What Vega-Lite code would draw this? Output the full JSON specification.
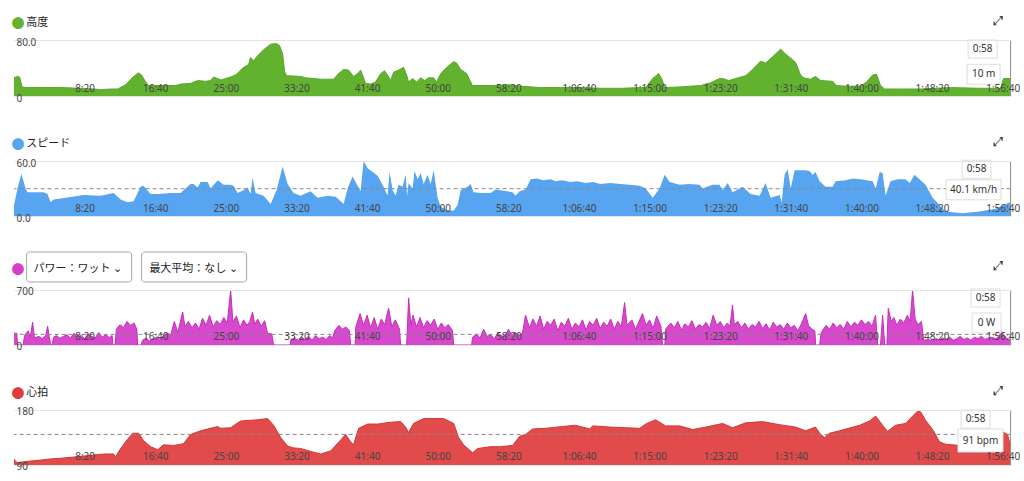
{
  "$schema": "https://vega.github.io/schema/vega-lite/v6.json",
  "autosize": {"type": "pad"},
  "padding": {"top": 14, "left": 11, "right": 4, "bottom": 4},
  "background": "#ffffff",
  "config": {
    "view": {"stroke": null},
    "axis": {"labelFont": "Noto Sans", "labelFontSize": 10, "labelColor": "#444444", "domain": false, "ticks": false, "labelFlush": false, "labelOverlap": false},
    "area": {"opacity": 1}
  },
  "datasets": {
    "elev": [
      {"t":0,"v":26},{"t":25,"v":28},{"t":40,"v":27},{"t":57,"v":13},{"t":75,"v":12},{"t":188,"v":12},{"t":330,"v":12},{"t":472,"v":11},{"t":564,"v":10},{"t":613,"v":9},{"t":684,"v":10},{"t":734,"v":10},{"t":790,"v":16},{"t":847,"v":28},{"t":882,"v":33},{"t":903,"v":30},{"t":932,"v":20},{"t":953,"v":15},{"t":1038,"v":15},{"t":1144,"v":15},{"t":1180,"v":17},{"t":1250,"v":18},{"t":1300,"v":22},{"t":1356,"v":21},{"t":1392,"v":22},{"t":1413,"v":27},{"t":1442,"v":25},{"t":1463,"v":23},{"t":1534,"v":27},{"t":1576,"v":31},{"t":1619,"v":40},{"t":1661,"v":45},{"t":1675,"v":55},{"t":1696,"v":50},{"t":1718,"v":56},{"t":1767,"v":66},{"t":1817,"v":74},{"t":1859,"v":75},{"t":1880,"v":72},{"t":1902,"v":60},{"t":1916,"v":35},{"t":1930,"v":29},{"t":2029,"v":28},{"t":2064,"v":26},{"t":2171,"v":24},{"t":2263,"v":24},{"t":2298,"v":32},{"t":2334,"v":38},{"t":2369,"v":37},{"t":2404,"v":28},{"t":2440,"v":33},{"t":2454,"v":37},{"t":2468,"v":30},{"t":2489,"v":18},{"t":2525,"v":17},{"t":2560,"v":20},{"t":2596,"v":32},{"t":2624,"v":36},{"t":2645,"v":30},{"t":2666,"v":22},{"t":2688,"v":34},{"t":2723,"v":37},{"t":2758,"v":41},{"t":2780,"v":30},{"t":2794,"v":20},{"t":2822,"v":25},{"t":2851,"v":20},{"t":2879,"v":26},{"t":2907,"v":22},{"t":2935,"v":26},{"t":2971,"v":26},{"t":2992,"v":20},{"t":3021,"v":32},{"t":3070,"v":42},{"t":3113,"v":49},{"t":3134,"v":47},{"t":3162,"v":38},{"t":3205,"v":32},{"t":3233,"v":20},{"t":3247,"v":15},{"t":3374,"v":15},{"t":3516,"v":16},{"t":3587,"v":14},{"t":3728,"v":12},{"t":3870,"v":12},{"t":4012,"v":12},{"t":4153,"v":11},{"t":4295,"v":11},{"t":4437,"v":12},{"t":4472,"v":12},{"t":4522,"v":25},{"t":4564,"v":32},{"t":4586,"v":25},{"t":4607,"v":12},{"t":4720,"v":13},{"t":4861,"v":15},{"t":4932,"v":19},{"t":4996,"v":25},{"t":5017,"v":25},{"t":5060,"v":22},{"t":5109,"v":25},{"t":5180,"v":29},{"t":5230,"v":38},{"t":5286,"v":50},{"t":5321,"v":47},{"t":5371,"v":56},{"t":5428,"v":67},{"t":5463,"v":60},{"t":5499,"v":54},{"t":5534,"v":48},{"t":5569,"v":30},{"t":5591,"v":26},{"t":5640,"v":24},{"t":5675,"v":28},{"t":5711,"v":22},{"t":5796,"v":21},{"t":5824,"v":15},{"t":5888,"v":14},{"t":5994,"v":14},{"t":6037,"v":20},{"t":6079,"v":30},{"t":6107,"v":31},{"t":6135,"v":15},{"t":6164,"v":10},{"t":6277,"v":10},{"t":6418,"v":10},{"t":6631,"v":12},{"t":6843,"v":11},{"t":6985,"v":11},{"t":7006,"v":25},{"t":7056,"v":25}
    ],
    "speed": [
      {"t":0,"v":12},{"t":25,"v":30},{"t":52,"v":46},{"t":82,"v":30},{"t":96,"v":26},{"t":210,"v":26},{"t":238,"v":24},{"t":259,"v":15},{"t":280,"v":18},{"t":365,"v":20},{"t":493,"v":23},{"t":613,"v":22},{"t":705,"v":25},{"t":755,"v":18},{"t":804,"v":15},{"t":847,"v":16},{"t":896,"v":32},{"t":917,"v":33},{"t":967,"v":24},{"t":1017,"v":24},{"t":1109,"v":25},{"t":1180,"v":25},{"t":1201,"v":28},{"t":1250,"v":35},{"t":1271,"v":35},{"t":1300,"v":31},{"t":1321,"v":37},{"t":1371,"v":37},{"t":1392,"v":30},{"t":1442,"v":39},{"t":1484,"v":34},{"t":1534,"v":34},{"t":1555,"v":33},{"t":1583,"v":25},{"t":1625,"v":28},{"t":1654,"v":31},{"t":1675,"v":24},{"t":1689,"v":42},{"t":1710,"v":25},{"t":1767,"v":22},{"t":1817,"v":13},{"t":1859,"v":28},{"t":1902,"v":54},{"t":1937,"v":35},{"t":1979,"v":25},{"t":2029,"v":22},{"t":2100,"v":27},{"t":2149,"v":20},{"t":2220,"v":22},{"t":2277,"v":21},{"t":2313,"v":16},{"t":2334,"v":13},{"t":2362,"v":30},{"t":2397,"v":43},{"t":2433,"v":33},{"t":2454,"v":27},{"t":2475,"v":60},{"t":2504,"v":52},{"t":2574,"v":44},{"t":2617,"v":32},{"t":2645,"v":22},{"t":2659,"v":48},{"t":2681,"v":28},{"t":2702,"v":22},{"t":2723,"v":34},{"t":2751,"v":32},{"t":2773,"v":45},{"t":2783,"v":22},{"t":2794,"v":36},{"t":2822,"v":30},{"t":2836,"v":49},{"t":2858,"v":40},{"t":2879,"v":47},{"t":2900,"v":35},{"t":2928,"v":45},{"t":2950,"v":35},{"t":2971,"v":50},{"t":2999,"v":20},{"t":3021,"v":10},{"t":3070,"v":6},{"t":3113,"v":6},{"t":3141,"v":12},{"t":3162,"v":28},{"t":3212,"v":32},{"t":3233,"v":35},{"t":3254,"v":26},{"t":3304,"v":25},{"t":3374,"v":25},{"t":3410,"v":29},{"t":3530,"v":26},{"t":3551,"v":22},{"t":3580,"v":27},{"t":3622,"v":29},{"t":3658,"v":40},{"t":3700,"v":41},{"t":3750,"v":39},{"t":3800,"v":40},{"t":3834,"v":38},{"t":3880,"v":39},{"t":3940,"v":37},{"t":3990,"v":38},{"t":4047,"v":36},{"t":4100,"v":37},{"t":4153,"v":35},{"t":4220,"v":36},{"t":4295,"v":35},{"t":4360,"v":34},{"t":4430,"v":33},{"t":4472,"v":30},{"t":4522,"v":20},{"t":4571,"v":30},{"t":4607,"v":45},{"t":4642,"v":37},{"t":4713,"v":34},{"t":4780,"v":35},{"t":4854,"v":34},{"t":4875,"v":30},{"t":4946,"v":34},{"t":4996,"v":34},{"t":5017,"v":28},{"t":5053,"v":36},{"t":5088,"v":26},{"t":5159,"v":32},{"t":5215,"v":24},{"t":5279,"v":22},{"t":5321,"v":36},{"t":5357,"v":20},{"t":5421,"v":23},{"t":5435,"v":15},{"t":5456,"v":45},{"t":5478,"v":51},{"t":5499,"v":30},{"t":5527,"v":50},{"t":5598,"v":50},{"t":5633,"v":49},{"t":5654,"v":45},{"t":5675,"v":48},{"t":5704,"v":38},{"t":5746,"v":32},{"t":5796,"v":32},{"t":5817,"v":38},{"t":5888,"v":39},{"t":5940,"v":41},{"t":5994,"v":40},{"t":6079,"v":38},{"t":6101,"v":30},{"t":6129,"v":48},{"t":6150,"v":47},{"t":6171,"v":22},{"t":6206,"v":38},{"t":6256,"v":40},{"t":6312,"v":40},{"t":6341,"v":36},{"t":6376,"v":45},{"t":6411,"v":40},{"t":6454,"v":34},{"t":6504,"v":20},{"t":6553,"v":12},{"t":6596,"v":5},{"t":6716,"v":3},{"t":6837,"v":5},{"t":6950,"v":8},{"t":7021,"v":13},{"t":7056,"v":15}
    ],
    "power": [
      {"t":0,"v":150},{"t":20,"v":150},{"t":25,"v":0},{"t":65,"v":0},{"t":75,"v":120},{"t":100,"v":180},{"t":115,"v":100},{"t":132,"v":290},{"t":145,"v":90},{"t":175,"v":110},{"t":200,"v":80},{"t":225,"v":120},{"t":238,"v":240},{"t":250,"v":100},{"t":260,"v":0},{"t":270,"v":0},{"t":280,"v":100},{"t":300,"v":120},{"t":325,"v":85},{"t":350,"v":110},{"t":375,"v":130},{"t":400,"v":90},{"t":425,"v":150},{"t":450,"v":100},{"t":475,"v":120},{"t":500,"v":80},{"t":525,"v":140},{"t":550,"v":110},{"t":575,"v":90},{"t":600,"v":160},{"t":625,"v":100},{"t":650,"v":130},{"t":675,"v":95},{"t":695,"v":120},{"t":700,"v":0},{"t":715,"v":0},{"t":725,"v":200},{"t":750,"v":260},{"t":775,"v":220},{"t":800,"v":300},{"t":825,"v":250},{"t":850,"v":280},{"t":870,"v":200},{"t":875,"v":0},{"t":900,"v":0},{"t":910,"v":60},{"t":935,"v":90},{"t":960,"v":50},{"t":985,"v":80},{"t":1010,"v":100},{"t":1035,"v":70},{"t":1060,"v":120},{"t":1085,"v":150},{"t":1110,"v":130},{"t":1135,"v":300},{"t":1160,"v":160},{"t":1194,"v":420},{"t":1210,"v":240},{"t":1235,"v":300},{"t":1260,"v":220},{"t":1285,"v":280},{"t":1310,"v":200},{"t":1335,"v":340},{"t":1360,"v":250},{"t":1385,"v":380},{"t":1410,"v":230},{"t":1435,"v":310},{"t":1460,"v":260},{"t":1485,"v":350},{"t":1510,"v":280},{"t":1534,"v":700},{"t":1550,"v":290},{"t":1575,"v":370},{"t":1600,"v":220},{"t":1625,"v":320},{"t":1650,"v":250},{"t":1670,"v":300},{"t":1689,"v":420},{"t":1705,"v":260},{"t":1725,"v":330},{"t":1750,"v":240},{"t":1775,"v":310},{"t":1795,"v":150},{"t":1825,"v":140},{"t":1838,"v":0},{"t":1955,"v":0},{"t":1960,"v":60},{"t":1985,"v":90},{"t":2010,"v":50},{"t":2035,"v":100},{"t":2060,"v":70},{"t":2085,"v":110},{"t":2110,"v":60},{"t":2135,"v":120},{"t":2160,"v":80},{"t":2185,"v":100},{"t":2210,"v":70},{"t":2235,"v":120},{"t":2255,"v":90},{"t":2270,"v":180},{"t":2300,"v":250},{"t":2325,"v":200},{"t":2350,"v":230},{"t":2375,"v":180},{"t":2383,"v":0},{"t":2415,"v":0},{"t":2420,"v":230},{"t":2450,"v":400},{"t":2475,"v":250},{"t":2500,"v":380},{"t":2525,"v":220},{"t":2550,"v":350},{"t":2575,"v":200},{"t":2600,"v":330},{"t":2625,"v":260},{"t":2652,"v":470},{"t":2675,"v":230},{"t":2700,"v":320},{"t":2730,"v":200},{"t":2737,"v":0},{"t":2780,"v":0},{"t":2787,"v":300},{"t":2794,"v":600},{"t":2810,"v":250},{"t":2825,"v":380},{"t":2850,"v":230},{"t":2875,"v":350},{"t":2900,"v":220},{"t":2925,"v":310},{"t":2950,"v":250},{"t":2975,"v":330},{"t":3000,"v":200},{"t":3025,"v":280},{"t":3050,"v":220},{"t":3075,"v":260},{"t":3105,"v":180},{"t":3113,"v":0},{"t":3240,"v":0},{"t":3247,"v":100},{"t":3275,"v":140},{"t":3300,"v":90},{"t":3325,"v":200},{"t":3350,"v":110},{"t":3375,"v":130},{"t":3400,"v":80},{"t":3425,"v":150},{"t":3450,"v":120},{"t":3475,"v":100},{"t":3500,"v":200},{"t":3525,"v":130},{"t":3550,"v":160},{"t":3575,"v":120},{"t":3600,"v":150},{"t":3622,"v":380},{"t":3650,"v":220},{"t":3675,"v":330},{"t":3700,"v":240},{"t":3725,"v":370},{"t":3750,"v":200},{"t":3775,"v":300},{"t":3800,"v":250},{"t":3825,"v":330},{"t":3850,"v":180},{"t":3875,"v":290},{"t":3900,"v":240},{"t":3925,"v":340},{"t":3950,"v":200},{"t":3975,"v":280},{"t":4000,"v":230},{"t":4025,"v":320},{"t":4050,"v":190},{"t":4075,"v":300},{"t":4100,"v":250},{"t":4125,"v":340},{"t":4150,"v":210},{"t":4175,"v":290},{"t":4200,"v":240},{"t":4225,"v":330},{"t":4250,"v":200},{"t":4275,"v":300},{"t":4300,"v":230},{"t":4323,"v":540},{"t":4340,"v":250},{"t":4375,"v":320},{"t":4400,"v":200},{"t":4425,"v":300},{"t":4450,"v":400},{"t":4475,"v":250},{"t":4500,"v":320},{"t":4525,"v":210},{"t":4550,"v":370},{"t":4580,"v":240},{"t":4592,"v":0},{"t":4608,"v":0},{"t":4613,"v":200},{"t":4650,"v":280},{"t":4675,"v":220},{"t":4700,"v":300},{"t":4725,"v":190},{"t":4750,"v":270},{"t":4775,"v":230},{"t":4800,"v":310},{"t":4825,"v":200},{"t":4850,"v":260},{"t":4875,"v":230},{"t":4900,"v":290},{"t":4925,"v":210},{"t":4950,"v":380},{"t":4975,"v":250},{"t":5000,"v":300},{"t":5025,"v":220},{"t":5050,"v":280},{"t":5070,"v":240},{"t":5087,"v":510},{"t":5100,"v":260},{"t":5125,"v":300},{"t":5150,"v":220},{"t":5175,"v":280},{"t":5200,"v":200},{"t":5225,"v":260},{"t":5250,"v":230},{"t":5275,"v":300},{"t":5300,"v":210},{"t":5325,"v":270},{"t":5350,"v":190},{"t":5375,"v":290},{"t":5400,"v":230},{"t":5425,"v":260},{"t":5450,"v":200},{"t":5475,"v":280},{"t":5500,"v":220},{"t":5525,"v":250},{"t":5550,"v":180},{"t":5575,"v":270},{"t":5605,"v":400},{"t":5625,"v":250},{"t":5650,"v":200},{"t":5670,"v":180},{"t":5676,"v":0},{"t":5704,"v":0},{"t":5715,"v":160},{"t":5750,"v":250},{"t":5775,"v":200},{"t":5800,"v":280},{"t":5825,"v":220},{"t":5850,"v":260},{"t":5875,"v":200},{"t":5900,"v":300},{"t":5925,"v":230},{"t":5950,"v":290},{"t":5975,"v":250},{"t":6000,"v":320},{"t":6025,"v":260},{"t":6050,"v":300},{"t":6075,"v":240},{"t":6100,"v":380},{"t":6115,"v":0},{"t":6135,"v":0},{"t":6150,"v":380},{"t":6165,"v":0},{"t":6180,"v":0},{"t":6190,"v":470},{"t":6210,"v":300},{"t":6230,"v":350},{"t":6250,"v":250},{"t":6275,"v":330},{"t":6300,"v":280},{"t":6325,"v":380},{"t":6345,"v":300},{"t":6362,"v":700},{"t":6380,"v":330},{"t":6400,"v":260},{"t":6425,"v":300},{"t":6440,"v":60},{"t":6475,"v":70},{"t":6500,"v":50},{"t":6525,"v":80},{"t":6550,"v":60},{"t":6575,"v":90},{"t":6600,"v":70},{"t":6625,"v":100},{"t":6650,"v":60},{"t":6675,"v":80},{"t":6700,"v":110},{"t":6725,"v":70},{"t":6750,"v":90},{"t":6775,"v":60},{"t":6800,"v":100},{"t":6825,"v":80},{"t":6850,"v":110},{"t":6875,"v":70},{"t":6900,"v":90},{"t":6925,"v":100},{"t":6950,"v":80},{"t":6975,"v":110},{"t":6990,"v":180},{"t":7010,"v":120},{"t":7030,"v":80},{"t":7056,"v":70}
    ],
    "hr": [
      {"t":0,"v":100},{"t":11,"v":96},{"t":25,"v":94},{"t":96,"v":96},{"t":188,"v":98},{"t":259,"v":100},{"t":330,"v":101},{"t":422,"v":103},{"t":507,"v":105},{"t":592,"v":107},{"t":649,"v":108},{"t":705,"v":108},{"t":719,"v":103},{"t":741,"v":112},{"t":790,"v":128},{"t":840,"v":142},{"t":882,"v":142},{"t":917,"v":130},{"t":967,"v":120},{"t":1017,"v":115},{"t":1059,"v":123},{"t":1130,"v":122},{"t":1180,"v":124},{"t":1201,"v":125},{"t":1250,"v":140},{"t":1321,"v":146},{"t":1442,"v":153},{"t":1463,"v":150},{"t":1534,"v":151},{"t":1604,"v":162},{"t":1724,"v":164},{"t":1795,"v":166},{"t":1838,"v":155},{"t":1888,"v":135},{"t":1937,"v":121},{"t":1979,"v":118},{"t":2029,"v":117},{"t":2121,"v":111},{"t":2171,"v":108},{"t":2242,"v":113},{"t":2313,"v":131},{"t":2348,"v":140},{"t":2383,"v":128},{"t":2404,"v":123},{"t":2440,"v":150},{"t":2504,"v":157},{"t":2574,"v":157},{"t":2666,"v":160},{"t":2737,"v":161},{"t":2773,"v":152},{"t":2794,"v":143},{"t":2829,"v":158},{"t":2900,"v":166},{"t":3042,"v":166},{"t":3113,"v":158},{"t":3148,"v":135},{"t":3183,"v":123},{"t":3247,"v":110},{"t":3283,"v":117},{"t":3374,"v":120},{"t":3445,"v":120},{"t":3530,"v":122},{"t":3580,"v":137},{"t":3622,"v":140},{"t":3672,"v":149},{"t":3764,"v":150},{"t":3884,"v":153},{"t":3976,"v":155},{"t":4076,"v":149},{"t":4097,"v":154},{"t":4224,"v":152},{"t":4330,"v":151},{"t":4430,"v":150},{"t":4472,"v":157},{"t":4543,"v":164},{"t":4613,"v":154},{"t":4713,"v":154},{"t":4805,"v":148},{"t":4897,"v":152},{"t":5017,"v":158},{"t":5088,"v":151},{"t":5180,"v":159},{"t":5300,"v":161},{"t":5421,"v":156},{"t":5534,"v":152},{"t":5605,"v":146},{"t":5675,"v":152},{"t":5711,"v":140},{"t":5739,"v":135},{"t":5774,"v":142},{"t":5845,"v":146},{"t":5987,"v":155},{"t":6058,"v":162},{"t":6101,"v":170},{"t":6150,"v":155},{"t":6185,"v":145},{"t":6241,"v":155},{"t":6312,"v":158},{"t":6362,"v":170},{"t":6398,"v":178},{"t":6419,"v":177},{"t":6454,"v":163},{"t":6504,"v":148},{"t":6553,"v":128},{"t":6596,"v":124},{"t":6695,"v":122},{"t":6837,"v":123},{"t":6907,"v":130},{"t":6999,"v":144},{"t":7035,"v":140},{"t":7056,"v":120}
    ],
    "tips": [
      {"p":"elev","t":6858,"v":67,"label":"0:58","box":"time"},
      {"p":"elev","t":6865,"v":31,"label":"10 m","box":"m"},
      {"p":"speed","t":6815,"v":51,"label":"0:58","box":"time"},
      {"p":"speed","t":6794,"v":28.6,"label":"40.1 km/h","box":"kmh"},
      {"p":"power","t":6879,"v":598,"label":"0:58","box":"time"},
      {"p":"power","t":6886,"v":280,"label":"0 W","box":"w"},
      {"p":"hr","t":6808,"v":165,"label":"0:58","box":"time"},
      {"p":"hr","t":6843,"v":130,"label":"91 bpm","box":"bpm"}
    ]
  },
  "bounds": "flush",
  "spacing": 65,
  "vconcat": [
    {
      "width": 996.6, "height": 56,
      "title": {"text": "●", "subtitle": "\u200B\u3000\u2004高度", "anchor": "start", "frame": "group", "dx": -2.4, "offset": -18, "color": "#62b22f", "font": "Noto Sans CJK JP", "fontSize": 13, "subtitleColor": "#222222", "subtitleFont": "Noto Sans CJK JP", "subtitleFontSize": 11, "subtitlePadding": -14},
      "layer": [
        {
          "data": {"name": "elev"},
          "mark": {"type": "area", "color": "#62b22f", "opacity": 1, "line": {"color": "#57a827", "strokeWidth": 1}},
          "encoding": {
            "x": {"field": "t", "type": "quantitative", "scale": {"domain": [0, 7056], "nice": false, "zero": false},
              "axis": {"zindex": 2, "values": [500,1000,1500,2000,2500,3000,3500,4000,4500,5000,5500,6000,6500,7000], "grid": false, "labelPadding": -13,
                "labelExpr": "(datum.value >= 3600 ? floor(datum.value/3600) + ':' + pad('' + floor((datum.value % 3600)/60), 2, '0', 'left') : '' + floor(datum.value/60)) + ':' + pad('' + (datum.value % 60), 2, '0', 'left')",
                "title": "⤢", "titleX": 984, "titleY": -76, "titleAngle": 0, "titleAlign": "center", "titleBaseline": "middle", "titleFontSize": 13, "titleColor": "#222222", "titleFont": "DejaVu Sans", "titleFontWeight": "normal"}},
            "y": {"field": "v", "type": "quantitative", "scale": {"domain": [0, 80], "nice": false},
              "axis": {"zindex": 2, "values": [0, 40, 80], "orient": "left", "labelAlign": "left", "labelPadding": -2, "labelBaseline": "middle", "labelOffset": 2, "grid": true, "gridColor": "#e3e3e3", "title": null,
                "labelExpr": "datum.value == 0 ? '0' : format(datum.value, '.1f')"}}
          }
        },
        {"data": {"values": [{}]}, "mark": {"type": "rule", "color": "#8c8c8c", "strokeWidth": 1}, "encoding": {"x": {"datum": 7056, "type": "quantitative"}}},
        {
          "data": {"name": "tips"}, "transform": [{"filter": "datum.p == 'elev'"}],
          "mark": {"type": "point", "filled": true, "fill": "#ffffff", "stroke": "#dddddd", "strokeWidth": 1, "size": 100, "opacity": 1},
          "encoding": {"x": {"field": "t", "type": "quantitative"}, "y": {"field": "v", "type": "quantitative"},
            "shape": {"field": "box", "type": "nominal", "legend": null, "scale": {"domain": ["time","m","kmh","w","bpm"], "range": ["M-2.9,-1.8H2.9V1.8H-2.9Z","M-3.3,-2H3.3V2H-3.3Z","M-5.5,-2H5.5V2H-5.5Z","M-2.9,-2H2.9V2H-2.9Z","M-4.5,-2.3H4.5V2.3H-4.5Z"]}}}
        },
        {
          "data": {"name": "tips"}, "transform": [{"filter": "datum.p == 'elev'"}],
          "mark": {"type": "text", "fontSize": 10, "color": "#333333", "font": "Noto Sans"},
          "encoding": {"x": {"field": "t", "type": "quantitative"}, "y": {"field": "v", "type": "quantitative"}, "text": {"field": "label"}}
        }
      ]
    },
    {
      "width": 996.6, "height": 55,
      "title": {"text": "●", "subtitle": "\u200B\u3000\u2004スピード", "anchor": "start", "frame": "group", "dx": -2.4, "offset": -18, "color": "#57a5f1", "font": "Noto Sans CJK JP", "fontSize": 13, "subtitleColor": "#222222", "subtitleFont": "Noto Sans CJK JP", "subtitleFontSize": 11, "subtitlePadding": -14},
      "layer": [
        {
          "data": {"name": "speed"},
          "mark": {"type": "area", "color": "#57a5f1", "opacity": 1},
          "encoding": {
            "x": {"field": "t", "type": "quantitative", "scale": {"domain": [0, 7056], "nice": false, "zero": false},
              "axis": {"zindex": 2, "values": [500,1000,1500,2000,2500,3000,3500,4000,4500,5000,5500,6000,6500,7000], "grid": false, "labelPadding": -13,
                "labelExpr": "(datum.value >= 3600 ? floor(datum.value/3600) + ':' + pad('' + floor((datum.value % 3600)/60), 2, '0', 'left') : '' + floor(datum.value/60)) + ':' + pad('' + (datum.value % 60), 2, '0', 'left')",
                "title": "⤢", "titleX": 984, "titleY": -75, "titleAngle": 0, "titleAlign": "center", "titleBaseline": "middle", "titleFontSize": 13, "titleColor": "#222222", "titleFont": "DejaVu Sans", "titleFontWeight": "normal"}},
            "y": {"field": "v", "type": "quantitative", "scale": {"domain": [0, 60], "nice": false},
              "axis": {"zindex": 2, "values": [0, 30, 60], "orient": "left", "labelAlign": "left", "labelPadding": -2, "labelBaseline": "middle", "labelOffset": 2, "grid": true, "gridColor": "#e3e3e3", "title": null, "format": ".1f"}}
          }
        },
        {"data": {"values": [{}]}, "mark": {"type": "rule", "color": "#8a8a8a", "strokeDash": [4, 3], "strokeWidth": 1}, "encoding": {"y": {"datum": 29.8, "type": "quantitative"}}},
        {"data": {"values": [{}]}, "mark": {"type": "rule", "color": "#8c8c8c", "strokeWidth": 1}, "encoding": {"x": {"datum": 7056, "type": "quantitative"}}},
        {
          "data": {"name": "tips"}, "transform": [{"filter": "datum.p == 'speed'"}],
          "mark": {"type": "point", "filled": true, "fill": "#ffffff", "stroke": "#dddddd", "strokeWidth": 1, "size": 100, "opacity": 1},
          "encoding": {"x": {"field": "t", "type": "quantitative"}, "y": {"field": "v", "type": "quantitative"},
            "shape": {"field": "box", "type": "nominal", "legend": null, "scale": {"domain": ["time","m","kmh","w","bpm"], "range": ["M-2.9,-1.8H2.9V1.8H-2.9Z","M-3.3,-2H3.3V2H-3.3Z","M-5.5,-2H5.5V2H-5.5Z","M-2.9,-2H2.9V2H-2.9Z","M-4.5,-2.3H4.5V2.3H-4.5Z"]}}}
        },
        {
          "data": {"name": "tips"}, "transform": [{"filter": "datum.p == 'speed'"}],
          "mark": {"type": "text", "fontSize": 10, "color": "#333333", "font": "Noto Sans"},
          "encoding": {"x": {"field": "t", "type": "quantitative"}, "y": {"field": "v", "type": "quantitative"}, "text": {"field": "label"}}
        }
      ]
    },
    {
      "width": 996.6, "height": 64,
      "title": {"text": "●", "subtitle": "\u200B\u3000\u3000パワー：ワット ⌄\u3000\u3000\u2002最大平均：なし ⌄", "anchor": "start", "frame": "group", "dx": -2.4, "offset": -28, "color": "#d43fc8", "font": "Noto Sans CJK JP", "fontSize": 13, "subtitleColor": "#222222", "subtitleFont": "Noto Sans CJK JP", "subtitleFontSize": 11, "subtitlePadding": -14},
      "layer": [
        {
          "data": {"name": "power"},
          "mark": {"type": "area", "color": "#d649cc", "opacity": 1, "line": {"color": "#c72cbb", "strokeWidth": 1}},
          "encoding": {
            "x": {"field": "t", "type": "quantitative", "scale": {"domain": [0, 7056], "nice": false, "zero": false},
              "axis": {"zindex": 2, "values": [500,1000,1500,2000,2500,3000,3500,4000,4500,5000,5500,6000,6500,7000], "grid": false, "labelPadding": -13,
                "labelExpr": "(datum.value >= 3600 ? floor(datum.value/3600) + ':' + pad('' + floor((datum.value % 3600)/60), 2, '0', 'left') : '' + floor(datum.value/60)) + ':' + pad('' + (datum.value % 60), 2, '0', 'left')",
                "title": "⤢", "titleX": 984, "titleY": -79, "titleAngle": 0, "titleAlign": "center", "titleBaseline": "middle", "titleFontSize": 13, "titleColor": "#222222", "titleFont": "DejaVu Sans", "titleFontWeight": "normal"}},
            "y": {"field": "v", "type": "quantitative", "scale": {"domain": [0, 814.5], "nice": false},
              "axis": {"zindex": 2, "values": [0, 400, 700], "orient": "left", "labelAlign": "left", "labelPadding": -2, "labelBaseline": "middle", "labelOffset": 2, "grid": true, "gridColor": "#e3e3e3", "title": null}}
          }
        },
        {"data": {"values": [{}]}, "mark": {"type": "rule", "color": "#8a8a8a", "strokeDash": [4, 3], "strokeWidth": 1}, "encoding": {"y": {"datum": 135, "type": "quantitative"}}},
        {"data": {"values": [{}]}, "mark": {"type": "rule", "color": "#8c8c8c", "strokeWidth": 1}, "encoding": {"x": {"datum": 7056, "type": "quantitative"}, "y": {"datum": 700, "type": "quantitative"}, "y2": {"datum": 0}}},
        {"data": {"values": [{}]}, "mark": {"type": "point", "shape": "M-9.9,-3H9.9A0.6,0.6 0 0 1 10.5,-2.4V2.4A0.6,0.6 0 0 1 9.9,3H-9.9A0.6,0.6 0 0 1 -10.5,2.4V-2.4A0.6,0.6 0 0 1 -9.9,-3Z", "size": 100, "filled": false, "stroke": "#a6a6a6", "strokeWidth": 1, "opacity": 1}, "encoding": {"x": {"datum": 461, "type": "quantitative"}, "y": {"datum": 993, "type": "quantitative"}}},
        {"data": {"values": [{}]}, "mark": {"type": "point", "shape": "M-9.9,-3H9.9A0.6,0.6 0 0 1 10.5,-2.4V2.4A0.6,0.6 0 0 1 9.9,3H-9.9A0.6,0.6 0 0 1 -10.5,2.4V-2.4A0.6,0.6 0 0 1 -9.9,-3Z", "size": 100, "filled": false, "stroke": "#a6a6a6", "strokeWidth": 1, "opacity": 1}, "encoding": {"x": {"datum": 1275, "type": "quantitative"}, "y": {"datum": 993, "type": "quantitative"}}},
        {
          "data": {"name": "tips"}, "transform": [{"filter": "datum.p == 'power'"}],
          "mark": {"type": "point", "filled": true, "fill": "#ffffff", "stroke": "#dddddd", "strokeWidth": 1, "size": 100, "opacity": 1},
          "encoding": {"x": {"field": "t", "type": "quantitative"}, "y": {"field": "v", "type": "quantitative"},
            "shape": {"field": "box", "type": "nominal", "legend": null, "scale": {"domain": ["time","m","kmh","w","bpm"], "range": ["M-2.9,-1.8H2.9V1.8H-2.9Z","M-3.3,-2H3.3V2H-3.3Z","M-5.5,-2H5.5V2H-5.5Z","M-2.9,-2H2.9V2H-2.9Z","M-4.5,-2.3H4.5V2.3H-4.5Z"]}}}
        },
        {
          "data": {"name": "tips"}, "transform": [{"filter": "datum.p == 'power'"}],
          "mark": {"type": "text", "fontSize": 10, "color": "#333333", "font": "Noto Sans"},
          "encoding": {"x": {"field": "t", "type": "quantitative"}, "y": {"field": "v", "type": "quantitative"}, "text": {"field": "label"}}
        }
      ]
    },
    {
      "width": 996.6, "height": 55,
      "title": {"text": "●", "subtitle": "\u200B\u3000\u2004心拍", "anchor": "start", "frame": "group", "dx": -2.4, "offset": -17, "color": "#e03a3a", "font": "Noto Sans CJK JP", "fontSize": 13, "subtitleColor": "#222222", "subtitleFont": "Noto Sans CJK JP", "subtitleFontSize": 11, "subtitlePadding": -14},
      "layer": [
        {
          "data": {"name": "hr"},
          "mark": {"type": "area", "color": "#e24b4b", "opacity": 1, "clip": true, "line": {"color": "#d83434", "strokeWidth": 1}},
          "encoding": {
            "x": {"field": "t", "type": "quantitative", "scale": {"domain": [0, 7056], "nice": false, "zero": false},
              "axis": {"zindex": 2, "values": [500,1000,1500,2000,2500,3000,3500,4000,4500,5000,5500,6000,6500,7000], "grid": false, "labelPadding": -13,
                "labelExpr": "(datum.value >= 3600 ? floor(datum.value/3600) + ':' + pad('' + floor((datum.value % 3600)/60), 2, '0', 'left') : '' + floor(datum.value/60)) + ':' + pad('' + (datum.value % 60), 2, '0', 'left')",
                "title": "⤢", "titleX": 984, "titleY": -74, "titleAngle": 0, "titleAlign": "center", "titleBaseline": "middle", "titleFontSize": 13, "titleColor": "#222222", "titleFont": "DejaVu Sans", "titleFontWeight": "normal"}},
            "y": {"field": "v", "type": "quantitative", "scale": {"domain": [90, 180], "nice": false, "zero": false},
              "axis": {"zindex": 2, "values": [90, 140, 180], "orient": "left", "labelAlign": "left", "labelPadding": -2, "labelBaseline": "middle", "labelOffset": 2, "grid": true, "gridColor": "#e3e3e3", "title": null}}
          }
        },
        {"data": {"values": [{}]}, "mark": {"type": "rule", "color": "#8a8a8a", "strokeDash": [4, 3], "strokeWidth": 1}, "encoding": {"y": {"datum": 140, "type": "quantitative"}}},
        {"data": {"values": [{}]}, "mark": {"type": "rule", "color": "#8c8c8c", "strokeWidth": 1}, "encoding": {"x": {"datum": 7056, "type": "quantitative"}}},
        {
          "data": {"name": "tips"}, "transform": [{"filter": "datum.p == 'hr'"}],
          "mark": {"type": "point", "filled": true, "fill": "#ffffff", "stroke": "#dddddd", "strokeWidth": 1, "size": 100, "opacity": 1},
          "encoding": {"x": {"field": "t", "type": "quantitative"}, "y": {"field": "v", "type": "quantitative"},
            "shape": {"field": "box", "type": "nominal", "legend": null, "scale": {"domain": ["time","m","kmh","w","bpm"], "range": ["M-2.9,-1.8H2.9V1.8H-2.9Z","M-3.3,-2H3.3V2H-3.3Z","M-5.5,-2H5.5V2H-5.5Z","M-2.9,-2H2.9V2H-2.9Z","M-4.5,-2.3H4.5V2.3H-4.5Z"]}}}
        },
        {
          "data": {"name": "tips"}, "transform": [{"filter": "datum.p == 'hr'"}],
          "mark": {"type": "text", "fontSize": 10, "color": "#333333", "font": "Noto Sans"},
          "encoding": {"x": {"field": "t", "type": "quantitative"}, "y": {"field": "v", "type": "quantitative"}, "text": {"field": "label"}}
        }
      ]
    }
  ]
}
